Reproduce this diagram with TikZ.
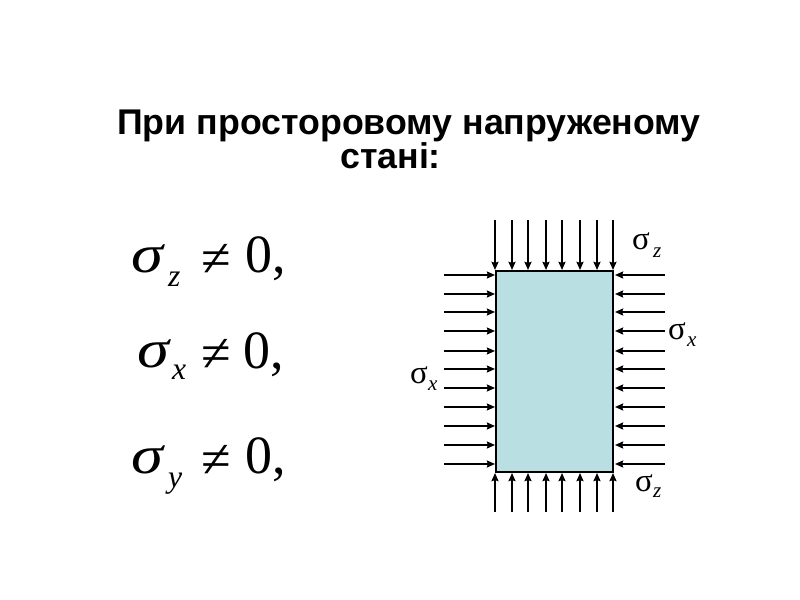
\documentclass[tikz,border=0pt]{standalone}
\usepackage{fontspec}
\setmainfont{Liberation Serif}
\newfontfamily\titlefont{Liberation Sans}
\usetikzlibrary{arrows.meta}
\definecolor{platefill}{HTML}{B9DFE3}
\tikzset{
	load/.style={draw=black, line width=1.8pt, -{Stealth[length=7pt,width=6pt,inset=1pt]}},
	caption/.style={font=\titlefont\bfseries\fontsize{30.5}{33}\selectfont, inner sep=0pt, anchor=base west},
	bigsigma/.style={font=\itshape\fontsize{46}{46}\selectfont, inner sep=0pt, anchor=base west, xscale=1.2},
	bigindex/.style={font=\itshape\fontsize{27}{27}\selectfont, inner sep=0pt, anchor=base west},
	bigrel/.style={font=\fontsize{46}{46}\selectfont, inner sep=0pt, anchor=base west},
	smallsigma/.style={font=\fontsize{28}{28}\selectfont, inner sep=0pt, anchor=base west},
	smallindex/.style={font=\itshape\fontsize{18}{18}\selectfont, inner sep=0pt, anchor=base west}
}

\begin{document}
\begin{tikzpicture}[x=0.03cm, y=-0.03cm]
	\useasboundingbox (0,0) rectangle (800,600);
	\fill[white] (0,0) rectangle (800,600);

	%heading, two lines
	\node[caption] (head1) at (117,135) {При просторовому напруженому};
	\node[caption] (head2) at (340,169) {стані:};

	%the three conditions on the left
	\node[bigsigma] (sz) at (131,273) {σ};
	\node[bigindex] (iz) at (168,287) {z};
	\node[bigrel] (nz) at (201,277) {≠};
	\node[bigrel] (oz) at (245,273) {0,};

	\node[bigsigma] (sx) at (137,368) {σ};
	\node[bigindex] (ix) at (172,380) {x};
	\node[bigrel] (nx) at (201,372) {≠};
	\node[bigrel] (ox) at (243,369) {0,};

	\node[bigsigma] (sy) at (131,474) {σ};
	\node[bigindex] (iy) at (168,488) {y};
	\node[bigrel] (ny) at (201,478) {≠};
	\node[bigrel] (oy) at (245,474) {0,};

	%the plate
	\draw[fill=platefill, line width=1.8pt] (496,271) rectangle (613,472);

	%loads on the top and bottom edges
	\foreach \xpos in {495,512,528,546,562,580,597,613} {
		\draw[load] (\xpos,220) -- (\xpos,270);
		\draw[load] (\xpos,512) -- (\xpos,473);
	}
	%loads on the left and right edges
	\foreach \ypos in {275,294,312,331,351,369,388,407,426,445,464} {
		\draw[load] (444,\ypos) -- (495,\ypos);
		\draw[load] (665,\ypos) -- (615,\ypos);
	}

	%labels of the loads
	\node[smallsigma] (topsig) at (632,250) {σ};
	\node[smallindex] (topind) at (653,258) {z};
	\node[smallsigma] (rightsig) at (668,340) {σ};
	\node[smallindex] (rightind) at (687,347) {x};
	\node[smallsigma] (leftsig) at (410,384) {σ};
	\node[smallindex] (leftind) at (428,391) {x};
	\node[smallsigma] (botsig) at (635,492) {σ};
	\node[smallindex] (botind) at (653,498) {z};
\end{tikzpicture}
\end{document}
